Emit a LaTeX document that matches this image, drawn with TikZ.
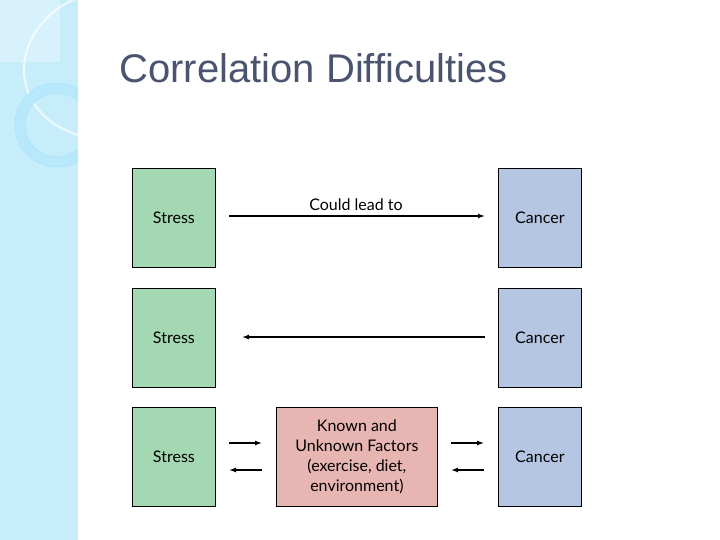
\documentclass[tikz,border=0pt]{standalone}
\usepackage{fontspec}
\usetikzlibrary{arrows.meta}
\setmainfont{Lato}
\newfontfamily\titlefont{Liberation Sans}
\begin{document}
\begin{tikzpicture}[x=1pt,y=-1pt,
  box/.style={draw=black,line width=0.8pt,minimum width=83pt,minimum height=99pt,anchor=north west,inner sep=0pt},
  stress/.style={box,fill={rgb,255:red,164;green,216;blue,178}},
  cancer/.style={box,fill={rgb,255:red,180;green,198;blue,226}},
  arr/.style={-{Latex[length=7pt,width=5pt]},line width=1.3pt},
  lbl/.style={font=\fontsize{16}{18}\selectfont}]
\useasboundingbox (0,0) rectangle (720,540);
\fill[white] (0,0) rectangle (720,540);
\fill[cyan!22] (0,0) rectangle (78,540);
\begin{scope}
\clip (0,0) rectangle (78,540);
\fill[white,opacity=0.3] (0,0) rectangle (60,62);
\draw[white,opacity=0.7,line width=2pt] (85,-5) .. controls (10,20) and (0,110) .. (78,135);
\draw[cyan!28,line width=9pt] (57,125) circle (37);
\draw[cyan!40,line width=0.4pt] (57,125) circle (42);
\draw[cyan!40,line width=0.4pt] (57,125) circle (32);
\end{scope}
\node[anchor=west,text={rgb,255:red,74;green,84;blue,110},font=\titlefont\fontsize{40}{44}\selectfont] (title) at (116,68) {Correlation Difficulties};
\node[stress] (s1) at (132,168) {};
\node[stress] (s2) at (132,288) {};
\node[stress] (s3) at (132,407) {};
\node[cancer] (c1) at (498,168) {};
\node[cancer] (c2) at (498,288) {};
\node[cancer] (c3) at (498,407) {};
\node[box,minimum width=161pt,fill={rgb,255:red,232;green,182;blue,178}] (m) at (276,407) {};
\node[align=center,font=\fontsize{16}{20}\selectfont] at (m.center) {Known and\\Unknown Factors\\(exercise, diet,\\environment)};
\foreach \n in {s1,s2,s3}{\node[lbl] at (\n.center) {Stress};}
\foreach \n in {c1,c2,c3}{\node[lbl] at (\n.center) {Cancer};}
\coordinate (a1) at (229,216); \coordinate (b1) at (485,216);
\draw[arr] (a1) -- (b1);
\node[lbl] (cl) at (356,205) {Could lead to};
\coordinate (a2) at (485,337); \coordinate (b2) at (242,337);
\draw[arr] (a2) -- (b2);
\coordinate (p1) at (229,443); \coordinate (p2) at (262,443);
\coordinate (p3) at (262,470); \coordinate (p4) at (229,470);
\coordinate (q1) at (451,443); \coordinate (q2) at (484,443);
\coordinate (q3) at (484,470); \coordinate (q4) at (451,470);
\draw[arr] (p1) -- (p2); \draw[arr] (p3) -- (p4);
\draw[arr] (q1) -- (q2); \draw[arr] (q3) -- (q4);
\end{tikzpicture}
\end{document}
